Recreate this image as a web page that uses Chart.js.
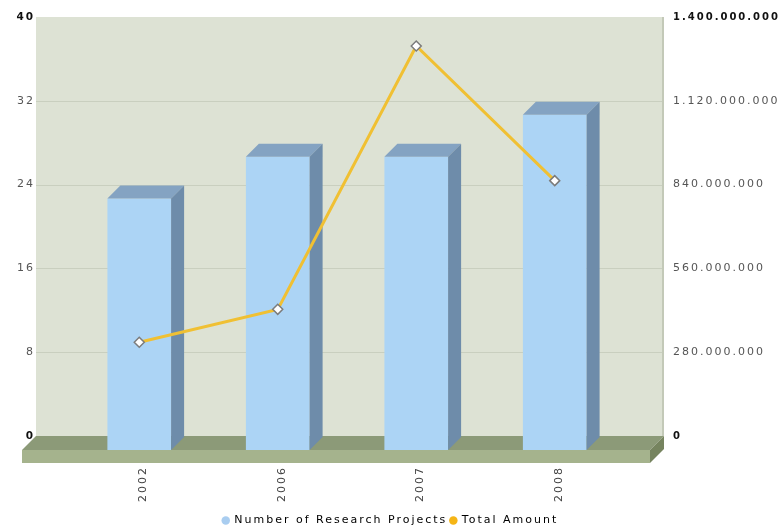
<!DOCTYPE html>
<html>
<head>
<meta charset="utf-8">
<script src="https://cdn.jsdelivr.net/npm/chart.js@4.4.0/dist/chart.umd.min.js"></script>
<style>
html, body { margin: 0; padding: 0; background: #fff; }
#wrap { width: 781px; height: 531px; }
</style>
</head>
<body>
<div id="wrap"><canvas id="chart"></canvas></div>
<script>
var years = ["2002", "2006", "2007", "2008"];
var projects = [24, 28, 28, 32];
var amounts = [360000000, 470000000, 1350000000, 900000000];
var projectsLabel = "Number of Research Projects";
var amountLabel = "Total Amount";

var DEPTH = 14;
var FONT = "'DejaVu Sans', Verdana, sans-serif";

function dots(v) {
    return String(v).replace(/\B(?=(\d{3})+(?!\d))/g, ".");
}

function polygon(ctx, pts, color) {
    ctx.beginPath();
    ctx.moveTo(pts[0][0], pts[0][1]);
    for (var i = 1; i < pts.length; i++) ctx.lineTo(pts[i][0], pts[i][1]);
    ctx.closePath();
    ctx.fillStyle = color;
    ctx.fill();
}

function spacing(chart) {
    chart.ctx.letterSpacing = "2px";
}

// back wall, grid lines and the floor slab
var wallPlugin = {
    id: "wall3d",
    beforeUpdate: spacing,
    beforeLayout: spacing,
    beforeDraw: spacing,
    beforeDatasetsDraw: function(chart) {
        var ctx = chart.ctx;
        var area = chart.chartArea;
        var y = chart.scales.y;
        var d = DEPTH;
        var fl = area.left - 48, fr = area.right + 26;
        var top = y.getPixelForValue(40), base = y.getPixelForValue(0);
        ctx.save();
        ctx.fillStyle = "#dde2d4";
        ctx.fillRect(fl + d, top - d, fr - fl, base - top);
        ctx.strokeStyle = "#c9cfbf";
        ctx.lineWidth = 1;
        y.ticks.forEach(function(t) {
            if (t.value === 0 || t.value === 40) return;
            var py = Math.round(y.getPixelForValue(t.value) - d) + 0.5;
            ctx.beginPath();
            ctx.moveTo(fl + d, py);
            ctx.lineTo(fr + d, py);
            ctx.stroke();
        });
        ctx.fillStyle = "#c3c9b8";
        ctx.fillRect(fr + d - 2, top - d, 2, base - top);
        // floor
        polygon(ctx, [[fl, base], [fl + d, base - d], [fr + d, base - d], [fr, base]], "#8c9a78");
        polygon(ctx, [[fl, base], [fr, base], [fr, base + 13], [fl, base + 13]], "#a5b38d");
        polygon(ctx, [[fr, base], [fr + d, base - d], [fr + d, base - d + 13], [fr, base + 13]], "#76845f");
        ctx.restore();
    },
    afterDatasetDraw: function(chart, args) {
        if (args.meta.type !== "bar") return;
        var ctx = chart.ctx;
        var d = DEPTH - 1;
        ctx.save();
        args.meta.data.forEach(function(bar) {
            var l = bar.x - bar.width / 2, r = bar.x + bar.width / 2;
            polygon(ctx, [[l, bar.y], [l + d, bar.y - d], [r + d, bar.y - d], [r, bar.y]], "#84a3c2");
            polygon(ctx, [[r, bar.y], [r + d, bar.y - d], [r + d, bar.base - d], [r, bar.base]], "#6e8caa");
        });
        ctx.restore();
    }
};

function edgeTick(c) {
    return c.index === 0 || c.index === 5;
}

function fitY(width) {
    return function(s) {
        s.width = width;
        s.paddingTop = 0;
        s.paddingBottom = 0;
    };
}

var chart = new Chart(document.getElementById("chart"), {
    type: "bar",
    data: {
        labels: years,
        datasets: [{
            type: "line",
            label: amountLabel,
            data: amounts,
            yAxisID: "y1",
            order: 1,
            borderColor: "#f0c033",
            borderWidth: 3,
            tension: 0,
            pointStyle: "rectRot",
            pointRadius: 5,
            pointBackgroundColor: "#ffffff",
            pointBorderColor: "#7c7c7c",
            pointBorderWidth: 1.5
        }, {
            label: projectsLabel,
            data: projects,
            yAxisID: "y",
            order: 2,
            backgroundColor: "#acd4f5",
            borderWidth: 0,
            categoryPercentage: 1,
            barPercentage: 0.46
        }]
    },
    options: {
        responsive: true,
        maintainAspectRatio: false,
        animation: false,
        layout: { padding: { top: 31, left: 0, right: 0, bottom: -5 } },
        scales: {
            x: {
                grid: { display: false, drawTicks: false },
                border: { display: false },
                ticks: {
                    minRotation: 90, maxRotation: 90, padding: 16, labelOffset: 4,
                    color: "#444", font: { family: FONT, size: 11 }
                },
                afterFit: function(s) { s.height = 62; }
            },
            y: {
                position: "left",
                min: 0, max: 40,
                grid: { display: false, drawTicks: false },
                border: { display: false },
                ticks: {
                    stepSize: 8, padding: 35, labelOffset: -14,
                    color: function(c) { return edgeTick(c) ? "#111" : "#555"; },
                    font: function(c) { return { family: FONT, size: edgeTick(c) ? 10.5 : 11, weight: edgeTick(c) ? "bold" : "normal" }; }
                },
                afterFit: fitY(70)
            },
            y1: {
                position: "right",
                min: 0, max: 1400000000,
                grid: { display: false, drawTicks: false },
                border: { display: false },
                ticks: {
                    stepSize: 280000000, padding: 49, labelOffset: -14,
                    callback: function(v) { return dots(v); },
                    color: function(c) { return edgeTick(c) ? "#111" : "#555"; },
                    font: function(c) { return { family: FONT, size: edgeTick(c) ? 10 : 11, weight: edgeTick(c) ? "bold" : "normal" }; }
                },
                afterFit: fitY(157)
            }
        },
        plugins: {
            tooltip: { enabled: false },
            legend: {
                position: "bottom",
                reverse: true,
                labels: {
                    usePointStyle: true,
                    boxWidth: 6, boxHeight: 6,
                    padding: 3,
                    color: "#333",
                    font: { family: FONT, size: 11 },
                    generateLabels: function(chart) {
                        return [
                            { text: amountLabel, fillStyle: "#f5b516", strokeStyle: "#f5b516", lineWidth: 0, pointStyle: "circle", datasetIndex: 0 },
                            { text: projectsLabel, fillStyle: "#a9cdf0", strokeStyle: "#a9cdf0", lineWidth: 0, pointStyle: "circle", datasetIndex: 1 }
                        ];
                    }
                }
            }
        }
    },
    plugins: [wallPlugin]
});
</script>
</body>
</html>
